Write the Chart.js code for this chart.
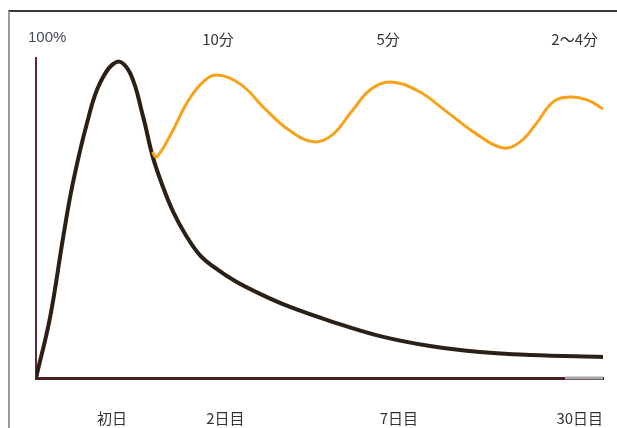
<!DOCTYPE html>
<html lang="ja">
<head>
  <meta charset="UTF-8">
  <title>記憶の定着曲線</title>
  <script src="https://cdn.jsdelivr.net/npm/chart.js"></script>
  <style>
    html, body { margin: 0; padding: 0; background: #fff; }
    .wrap { position: relative; width: 617px; height: 428px; }
    .frame {
      position: absolute; left: 8px; top: 10px; right: 0; bottom: 0;
      border-top: 2px solid #3a3a3a;
      border-left: 2px solid #9a9a9a;
      pointer-events: none;
    }
  </style>
</head>
<body>
  <div class="wrap">
    <canvas id="chart" width="617" height="428"></canvas>
    <div class="frame"></div>
  </div>

  <script>
    // bottom labels (days) and their positions on the 0-100 time axis
    const dayLabels = ['初日', '2日目', '7日目', '30日目'];
    const dayPos = [13.4, 33.4, 64.0, 95.9];

    // top labels (review time) and positions
    const reviewLabels = ['10分', '5分', '2～4分'];
    const reviewPos = [32.1, 62.1, 95.0];

    // memory without review (black curve)
    const forgetX = [0, 2.5, 4.8, 6.5, 9.0, 11.3, 14.3, 16.6, 18.9, 20.6, 22.4, 24.2, 26.3, 28.9, 31.6, 35.1, 39.5, 44.8, 51.9, 60.7, 69.5, 78.3, 87.1, 100];
    const forgetY = [0, 19.1, 44.1, 60.9, 79.7, 92.2, 98.8, 95.3, 81.6, 69.1, 59.7, 51.9, 45.0, 38.4, 34.4, 30.3, 26.3, 22.2, 17.8, 13.1, 10.0, 8.1, 7.2, 6.6];

    // memory with review (orange curve)
    const reviewX = [20.5, 21.3, 24.0, 26.6, 29.3, 31.9, 36.2, 40.4, 44.6, 48.9, 52.2, 55.6, 58.9, 62.4, 67.4, 72.3, 77.4, 82.4, 85.4, 88.2, 91.2, 94.2, 97.2, 100];
    const reviewY = [70.6, 69.1, 76.9, 85.9, 92.2, 94.7, 91.6, 84.1, 77.5, 73.8, 75.9, 83.1, 90.0, 92.5, 89.7, 83.4, 76.6, 71.9, 73.8, 79.4, 86.3, 87.8, 86.9, 84.1];

    // where the dark part of the time axis ends (rest is light grey)
    const axisDarkEnd = 93.3;

    const toPoints = (xs, ys) => xs.map((x, i) => ({ x: x, y: ys[i] }));

    // "100%" caption + grey tail of the time axis
    const extrasPlugin = {
      id: 'extras',
      afterDraw(chart) {
        const ctx = chart.ctx;
        const xs = chart.scales.x;
        const y0 = chart.scales.y.getPixelForValue(0);
        ctx.save();
        ctx.strokeStyle = '#a8a8a8';
        ctx.lineWidth = 3;
        ctx.beginPath();
        ctx.moveTo(xs.getPixelForValue(axisDarkEnd), y0);
        ctx.lineTo(xs.getPixelForValue(100), y0);
        ctx.stroke();

        ctx.font = '15px "Liberation Sans", sans-serif';
        ctx.fillStyle = '#454a58';
        ctx.textBaseline = 'middle';
        ctx.textAlign = 'left';
        ctx.fillText('100%', 28, 38);
        ctx.restore();
      }
    };

    const labelFont = { family: '"Noto Sans CJK JP", sans-serif', size: 15 };

    new Chart(document.getElementById('chart'), {
      type: 'line',
      data: {
        datasets: [
          {
            label: '復習あり',
            data: toPoints(reviewX, reviewY),
            borderColor: '#f7a21b',
            borderWidth: 3,
            pointRadius: 0,
            tension: 0.4,
            fill: false
          },
          {
            label: '復習なし',
            data: toPoints(forgetX, forgetY),
            borderColor: '#2b2016',
            borderWidth: 4,
            pointRadius: 0,
            tension: 0.4,
            fill: false
          }
        ]
      },
      options: {
        responsive: false,
        animation: false,
        layout: { padding: { left: 0, right: 14, top: 0, bottom: 0 } },
        plugins: {
          legend: { display: false },
          tooltip: { enabled: false }
        },
        scales: {
          x: {
            type: 'linear',
            position: 'bottom',
            min: 0,
            max: 100,
            grid: { display: false },
            border: { display: true, color: '#4a1f22', width: 3 },
            afterBuildTicks: (scale) => { scale.ticks = dayPos.map(v => ({ value: v })); },
            afterFit: (scale) => { scale.height = 50; scale.paddingLeft = 0; scale.paddingRight = 0; },
            ticks: {
              autoSkip: false,
              maxRotation: 0,
              padding: 23,
              color: '#333',
              font: labelFont,
              callback: (value, index) => dayLabels[index]
            }
          },
          x2: {
            type: 'linear',
            position: 'top',
            min: 0,
            max: 100,
            grid: { display: false },
            border: { display: false },
            afterBuildTicks: (scale) => { scale.ticks = reviewPos.map(v => ({ value: v })); },
            afterFit: (scale) => { scale.height = 58; scale.paddingLeft = 0; scale.paddingRight = 0; },
            ticks: {
              autoSkip: false,
              maxRotation: 0,
              padding: 2,
              color: '#333',
              font: labelFont,
              callback: (value, index) => reviewLabels[index]
            }
          },
          y: {
            min: 0,
            max: 100,
            grid: { display: false },
            border: { display: true, color: '#5a2a35', width: 2 },
            ticks: { display: false },
            afterFit: (scale) => { scale.width = 36; }
          }
        }
      },
      plugins: [extrasPlugin]
    });
  </script>
</body>
</html>
